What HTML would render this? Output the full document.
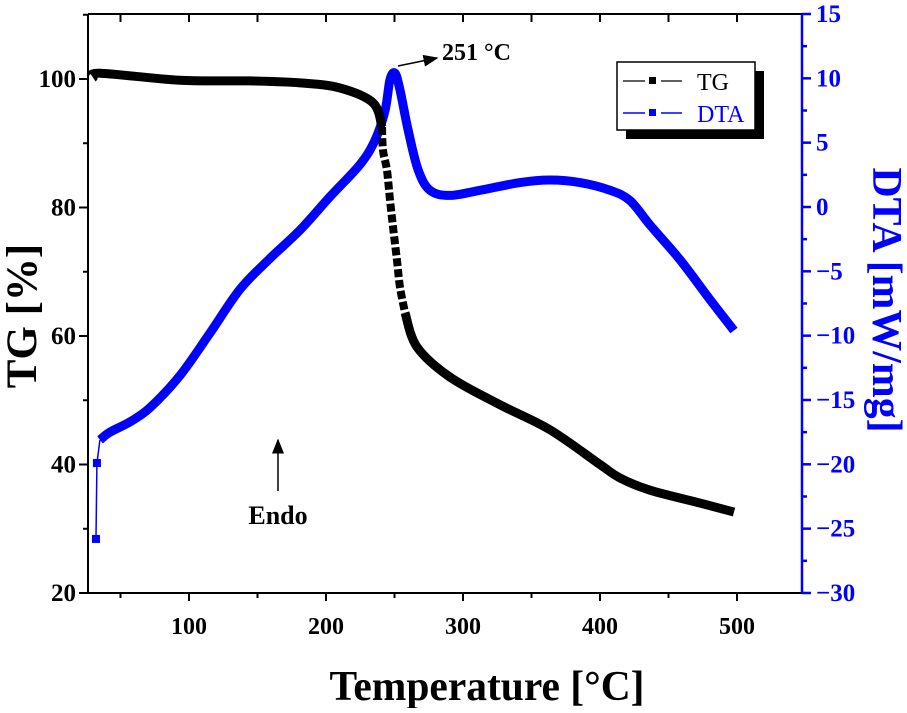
<!DOCTYPE html>
<html><head><meta charset="utf-8"><style>
body{margin:0;background:#fff}
svg text{font-family:"Liberation Serif",serif;font-weight:bold}
</style></head><body>
<svg id="c" width="907" height="708" viewBox="0 0 907 708"></svg>
<script>
const tgT=[30,35,93.4,144.5,181,210.2,234.3,240.9,241.6,244.5,246.7,248.9,251.8,254,257.7,266.4,290.5,327,363.5,400,414.6,436.5,473,497.8];
const tgV=[100.2,100.9,99.8,99.7,99.4,98.6,96.3,92.5,88.9,85.8,81.2,77,71.8,67.6,63.6,58.3,53.6,49.3,45.4,40,37.9,36,34,32.6];
const dtaT=[32.1,32.8,35,42.3,56.9,71.5,93.4,115.3,137.2,159.1,181,202.9,224.8,235.8,243.1,246.7,250.4,254,259.9,267.2,275.9,290.5,312.4,341.6,363.5,385.4,407.3,421.9,436.5,458.4,480.3,497.8];
const dtaV=[-25.8,-19.9,-18.1,-17.5,-16.7,-15.6,-13.1,-9.8,-6.4,-4,-1.8,0.8,3.3,5.2,7.5,9.9,10.4,9.1,6,2.9,1.3,0.9,1.3,1.9,2.1,1.9,1.3,0.5,-1.4,-4.1,-7.2,-9.6];
const xTicks=[100,200,300,400,500];
const yLTicks=[20,40,60,80,100];
const yRTicks=[-30,-25,-20,-15,-10,-5,0,5,10,15];

const L=88,R=802,T0=14,B=593;
const X=t=>189+(t-100)*1.37;
const YL=v=>593-(v-20)*128.5/20;
const YR=v=>207-v*64.33/5;
const svg=document.getElementById('c');
const NS='http://www.w3.org/2000/svg';
function mk(tag,at,txt){const e=document.createElementNS(NS,tag);for(const k in at)e.setAttribute(k,at[k]);if(txt!==undefined)e.textContent=txt;svg.appendChild(e);return e;}
const fmt=v=>v<0?'\u2212'+(-v):''+v;
function smooth(pts){let d='M'+pts[0][0]+','+pts[0][1];
 for(let i=0;i<pts.length-1;i++){const p0=pts[Math.max(0,i-1)],p1=pts[i],p2=pts[i+1],p3=pts[Math.min(pts.length-1,i+2)];
  d+=' C'+(p1[0]+(p2[0]-p0[0])/6)+','+(p1[1]+(p2[1]-p0[1])/6)+' '+(p2[0]-(p3[0]-p1[0])/6)+','+(p2[1]-(p3[1]-p1[1])/6)+' '+p2[0]+','+p2[1];}
 return d;}

let e;
e=mk('line',{x1:L,y1:T0,x2:R,y2:T0,stroke:'#000','stroke-width':2});

e=mk('line',{x1:L,y1:B,x2:R,y2:B,stroke:'#000','stroke-width':2});

e=mk('line',{x1:L,y1:T0,x2:L,y2:B,stroke:'#000','stroke-width':2});

e=mk('line',{x1:R,y1:T0,x2:R,y2:B,stroke:'#0000ff','stroke-width':2.5});


for(let t=50;t<=550;t+=50){const x=X(t);if(x<L||x>R)continue;
 mk('line',{x1:x,y1:T0,x2:x,y2:T0+8,stroke:'#000','stroke-width':2});
 mk('line',{x1:x,y1:B,x2:x,y2:B+(t%100?5:8),stroke:'#000','stroke-width':2});}
xTicks.forEach(t=>{e=mk('text',{x:X(t),y:B+41,'text-anchor':'middle','font-size':24},t);
 });
for(let v=20;v<=110;v+=10){const y=YL(v);mk('line',{x1:L,y1:y,x2:L-(v%20?5:9),y2:y,stroke:'#000','stroke-width':2});}
yLTicks.forEach(v=>{e=mk('text',{x:L-12,y:YL(v)+8,'text-anchor':'end','font-size':25},v);
 });
for(let v=-30;v<=15;v+=2.5){const y=YR(v);mk('line',{x1:R,y1:y,x2:R+(Math.abs(v%5)>0?5:9),y2:y,stroke:'#0000ff','stroke-width':2.5});}
yRTicks.forEach(v=>{e=mk('text',{x:R+14,y:YR(v)+8,'font-size':25,fill:'#0000ff'},fmt(v));
 });

e=mk('text',{x:487,y:700,'text-anchor':'middle','font-size':42,textLength:315,lengthAdjust:'spacingAndGlyphs'},'Temperature [°C]');

e=mk('text',{x:0,y:0,'text-anchor':'middle','font-size':43,transform:'translate(36,316) rotate(-90)'},'TG [%]');

e=mk('text',{x:0,y:0,'text-anchor':'middle','font-size':42,fill:'#0000ff',textLength:265,lengthAdjust:'spacingAndGlyphs',transform:'translate(873,300) rotate(90)'},'DTA [mW/mg]');


let p=dtaT.map((t,i)=>[X(t),YR(dtaV[i])]);
e=mk('polyline',{points:p.slice(0,3).join(' '),fill:'none',stroke:'#0000ff','stroke-width':1.5});

e=mk('path',{d:smooth(p.slice(2)),fill:'none',stroke:'#0000ff','stroke-width':9,'stroke-linejoin':'round'});

for(let i=0;i<2;i++){e=mk('rect',{x:X(dtaT[i])-4,y:YR(dtaV[i])-4,width:8,height:8,fill:'#0000ff'});
 }

const tp=tgT.map((t,i)=>[X(t),YL(tgV[i])]);
const si=tgT.indexOf(240.9),ei=tgT.indexOf(257.7);
e=mk('path',{d:smooth(tp.slice(0,si+1)),fill:'none',stroke:'#000','stroke-width':9,'stroke-linejoin':'round'});

e=mk('path',{d:smooth(tp.slice(si,ei+1)),fill:'none',stroke:'#000','stroke-width':8,'stroke-dasharray':'8 3'});

e=mk('path',{d:smooth(tp.slice(ei)),fill:'none',stroke:'#000','stroke-width':9,'stroke-linejoin':'round'});


mk('defs',{}).innerHTML='<marker id="ah" markerWidth="10" markerHeight="8" refX="9" refY="4" orient="auto"><path d="M0,0 L10,4 L0,8 z" fill="#000"/></marker>';
e=mk('line',{x1:398,y1:66,x2:437,y2:58,stroke:'#000','stroke-width':1.5,'marker-end':'url(#ah)'});

e=mk('text',{x:442,y:60,'font-size':24},'251 °C');

e=mk('line',{x1:278,y1:491,x2:278,y2:440,stroke:'#000','stroke-width':1.5,'marker-end':'url(#ah)'});

e=mk('text',{x:278,y:524,'text-anchor':'middle','font-size':26},'Endo');


const g=document.createElementNS(NS,'g');svg.appendChild(g);
g.innerHTML='<rect x="626" y="71" width="138" height="68" fill="#000"/><rect x="617" y="62" width="138" height="68" fill="#fff" stroke="#000" stroke-width="1.5"/>'+
'<line x1="623" y1="81" x2="682" y2="81" stroke="#000" stroke-width="1.2" stroke-dasharray="22 6 4 6 22"/><rect x="649" y="77" width="7" height="7" fill="#000"/>'+
'<text x="697" y="90" font-size="24" style="font-weight:normal">TG</text>'+
'<line x1="623" y1="113" x2="682" y2="113" stroke="#0000ff" stroke-width="1.5" stroke-dasharray="22 6 4 6 22"/><rect x="649" y="109" width="7" height="7" fill="#0000ff"/>'+
'<text x="697" y="122" font-size="24" fill="#0000ff" style="font-weight:normal">DTA</text>';
</script>
</body></html>
